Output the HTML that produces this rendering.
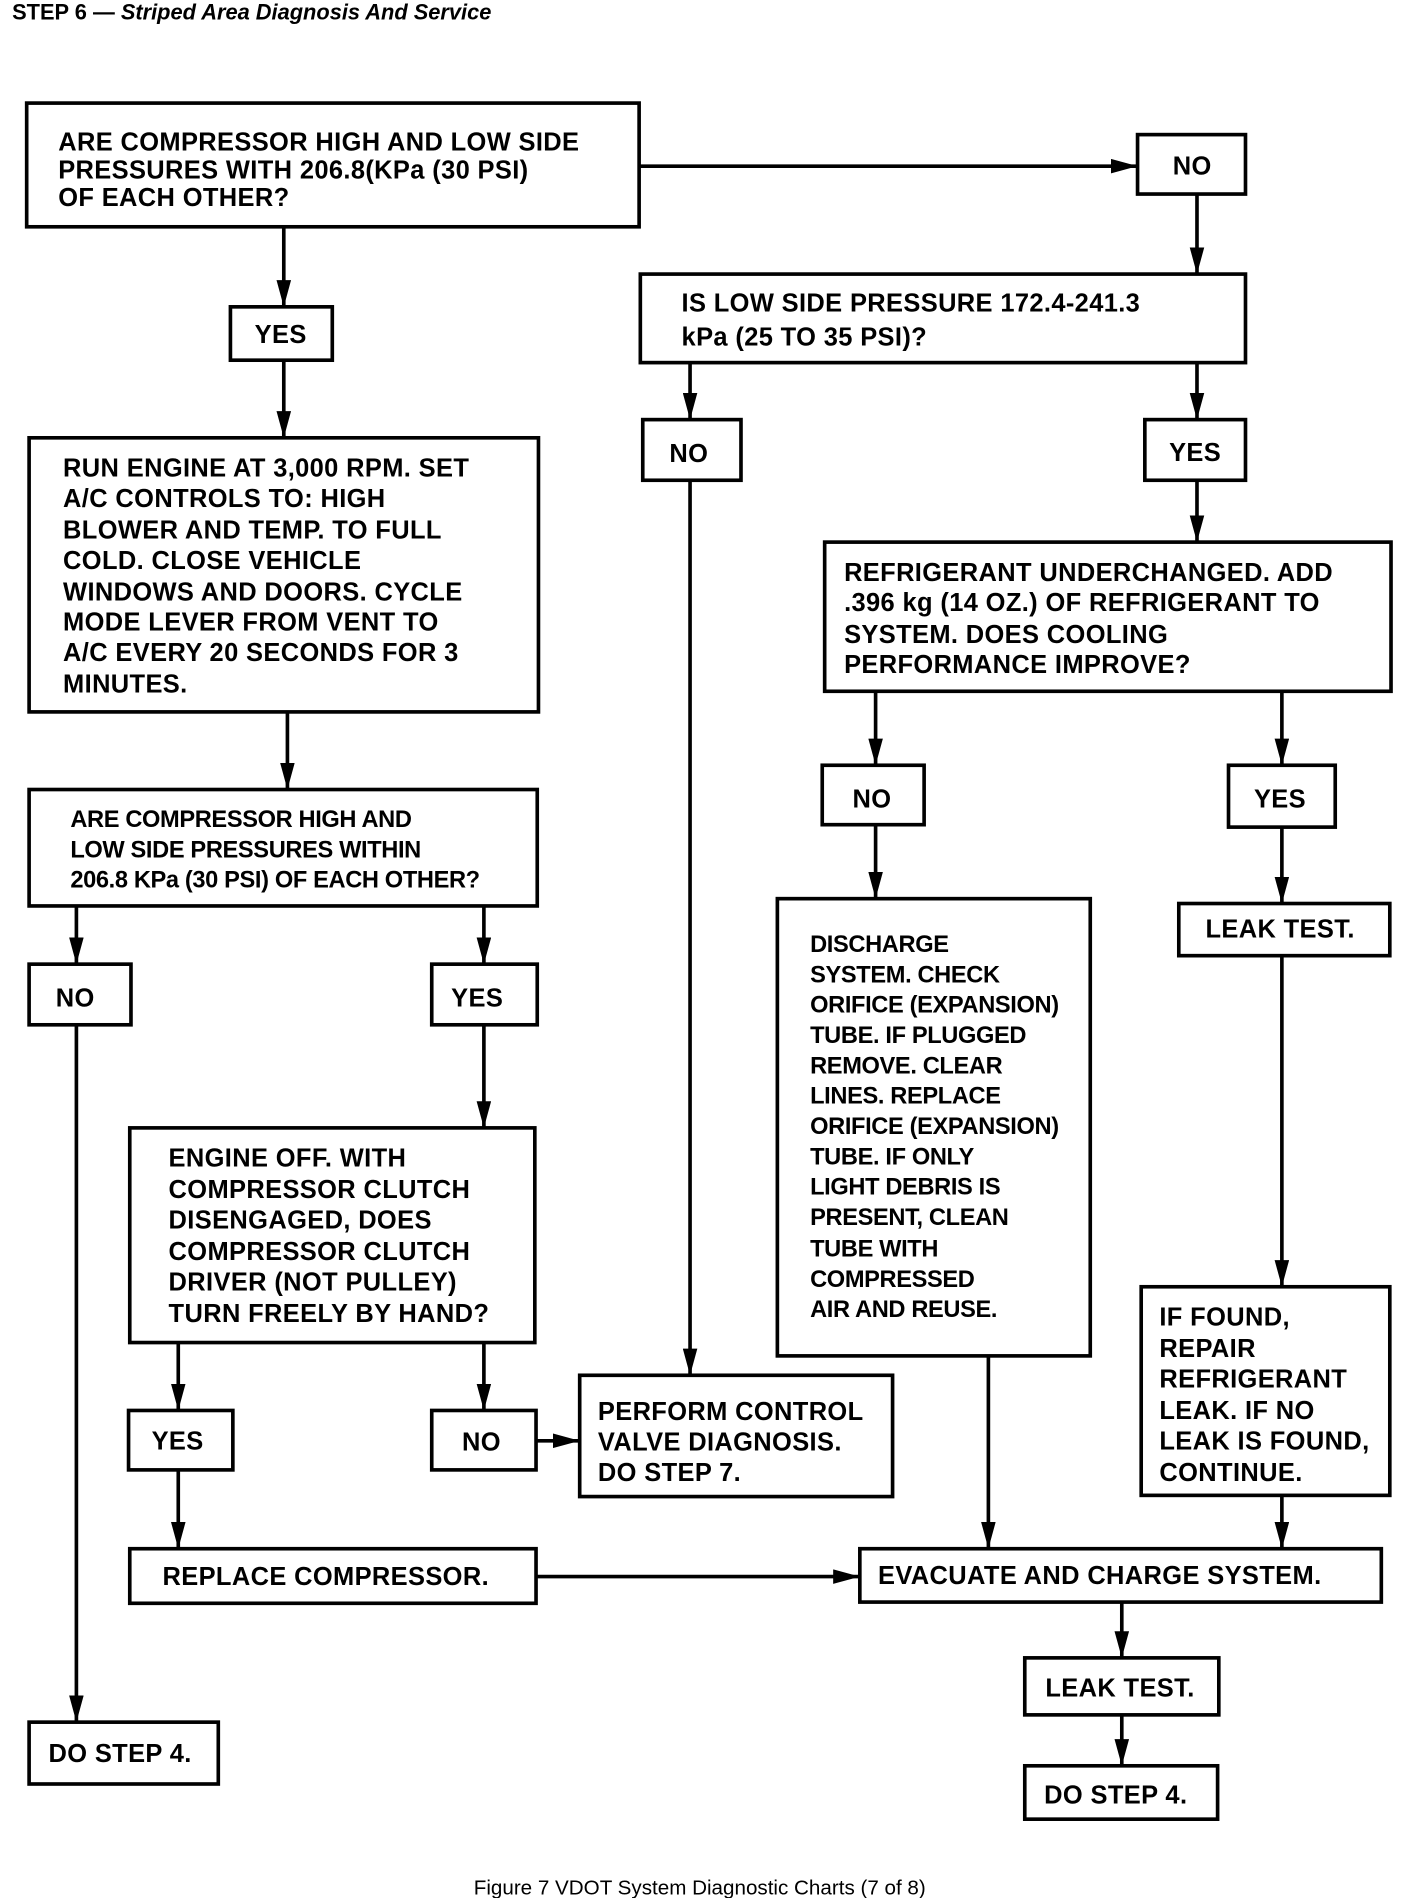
<!DOCTYPE html>
<html><head><meta charset="utf-8"><style>
html,body{margin:0;padding:0;background:#fff}
svg{display:block}
text{font-family:"Liberation Sans",Arial,sans-serif;fill:#000}
.t{font-size:21px;font-weight:bold;letter-spacing:0.3px}
.c{font-size:19.5px;font-weight:bold;letter-spacing:-0.3px}
rect{fill:#fff;stroke:#000;stroke-width:3}
line{stroke:#000;stroke-width:3}
</style></head><body>
<svg width="1408" height="1898" viewBox="0 0 1161 1565" preserveAspectRatio="none" xmlns="http://www.w3.org/2000/svg">
<defs><marker id="a" viewBox="0 0 10 20" refX="10" refY="10" markerWidth="10" markerHeight="20" markerUnits="userSpaceOnUse" orient="auto"><path d="M0,0 L0,20 L10,10 z" fill="#000" transform="translate(0,0)"/></marker>
<marker id="b" viewBox="0 0 22 12" refX="22" refY="6" markerWidth="22" markerHeight="12" markerUnits="userSpaceOnUse" orient="auto"><path d="M0,0 L22,6 L0,12 z" fill="#000"/></marker></defs>

<text x="10" y="16" style="font-size:18px;font-weight:bold">STEP 6 — <tspan font-style="italic">Striped Area Diagnosis And Service</tspan></text>

<!-- connectors -->
<g marker-end="url(#b)">
<line x1="527" y1="137" x2="938" y2="137"/>
<line x1="987" y1="160" x2="987" y2="226"/>
<line x1="234" y1="187" x2="234" y2="253"/>
<line x1="234" y1="297" x2="234" y2="361"/>
<line x1="237" y1="587" x2="237" y2="651"/>
<line x1="63" y1="747" x2="63" y2="795"/>
<line x1="399" y1="747" x2="399" y2="795"/>
<line x1="63" y1="845" x2="63" y2="1420"/>
<line x1="399" y1="845" x2="399" y2="930"/>
<line x1="147" y1="1107" x2="147" y2="1163"/>
<line x1="399" y1="1107" x2="399" y2="1163"/>
<line x1="442" y1="1188" x2="478" y2="1188"/>
<line x1="569" y1="299" x2="569" y2="346"/>
<line x1="569" y1="396" x2="569" y2="1134"/>
<line x1="987" y1="299" x2="987" y2="346"/>
<line x1="987" y1="396" x2="987" y2="447"/>
<line x1="722" y1="570" x2="722" y2="631"/>
<line x1="722" y1="680" x2="722" y2="741"/>
<line x1="815" y1="1118" x2="815" y2="1277"/>
<line x1="1057" y1="570" x2="1057" y2="631"/>
<line x1="1057" y1="682" x2="1057" y2="745"/>
<line x1="1057" y1="788" x2="1057" y2="1061"/>
<line x1="1057" y1="1233" x2="1057" y2="1277"/>
<line x1="147" y1="1212" x2="147" y2="1277"/>
<line x1="442" y1="1300" x2="709" y2="1300"/>
<line x1="925" y1="1321" x2="925" y2="1367"/>
<line x1="925" y1="1414" x2="925" y2="1456"/>
</g>

<!-- boxes -->
<rect x="22" y="85" width="505" height="102"/>
<text class="t" x="48" y="124">ARE COMPRESSOR HIGH AND LOW SIDE</text>
<text class="t" x="48" y="147">PRESSURES WITH 206.8(KPa (30 PSI)</text>
<text class="t" x="48" y="170">OF EACH OTHER?</text>

<rect x="938" y="111" width="89" height="49"/><text class="t" x="967" y="144">NO</text>

<rect x="528" y="226" width="499" height="73"/>
<text class="t" x="562" y="257">IS LOW SIDE PRESSURE 172.4-241.3</text>
<text class="t" x="562" y="285">kPa (25 TO 35 PSI)?</text>

<rect x="190" y="253" width="84" height="44"/><text class="t" x="210" y="283">YES</text>

<rect x="24" y="361" width="420" height="226"/>
<g class="t"><text class="t" x="52" y="393">RUN ENGINE AT 3,000 RPM. SET</text>
<text class="t" x="52" y="418">A/C CONTROLS TO: HIGH</text>
<text class="t" x="52" y="444">BLOWER AND TEMP. TO FULL</text>
<text class="t" x="52" y="469">COLD. CLOSE VEHICLE</text>
<text class="t" x="52" y="495">WINDOWS AND DOORS. CYCLE</text>
<text class="t" x="52" y="520">MODE LEVER FROM VENT TO</text>
<text class="t" x="52" y="545">A/C EVERY 20 SECONDS FOR 3</text>
<text class="t" x="52" y="571">MINUTES.</text></g>

<rect x="24" y="651" width="419" height="96"/>
<text class="c" x="58" y="682">ARE COMPRESSOR HIGH AND</text>
<text class="c" x="58" y="707">LOW SIDE PRESSURES WITHIN</text>
<text class="c" x="58" y="732">206.8 KPa (30 PSI) OF EACH OTHER?</text>

<rect x="24" y="795" width="84" height="50"/><text class="t" x="46" y="830">NO</text>
<rect x="356" y="795" width="87" height="50"/><text class="t" x="372" y="830">YES</text>

<rect x="24" y="1420" width="156" height="51"/><text class="t" x="40" y="1453">DO STEP 4.</text>

<rect x="107" y="930" width="334" height="177"/>
<text class="t" x="139" y="962">ENGINE OFF. WITH</text>
<text class="t" x="139" y="988">COMPRESSOR CLUTCH</text>
<text class="t" x="139" y="1013">DISENGAGED, DOES</text>
<text class="t" x="139" y="1039">COMPRESSOR CLUTCH</text>
<text class="t" x="139" y="1064">DRIVER (NOT PULLEY)</text>
<text class="t" x="139" y="1090">TURN FREELY BY HAND?</text>

<rect x="106" y="1163" width="86" height="49"/><text class="t" x="125" y="1195">YES</text>
<rect x="356" y="1163" width="86" height="49"/><text class="t" x="381" y="1196">NO</text>

<rect x="478" y="1134" width="258" height="100"/>
<text class="t" x="493" y="1171">PERFORM CONTROL</text>
<text class="t" x="493" y="1196">VALVE DIAGNOSIS.</text>
<text class="t" x="493" y="1221">DO STEP 7.</text>

<rect x="530" y="346" width="81" height="50"/><text class="t" x="552" y="381">NO</text>
<rect x="944" y="346" width="83" height="50"/><text class="t" x="964" y="380">YES</text>

<rect x="680" y="447" width="467" height="123"/>
<text class="t" x="696" y="479">REFRIGERANT UNDERCHANGED. ADD</text>
<text class="t" x="696" y="504">.396 kg (14 OZ.) OF REFRIGERANT TO</text>
<text class="t" x="696" y="530">SYSTEM. DOES COOLING</text>
<text class="t" x="696" y="555">PERFORMANCE IMPROVE?</text>

<rect x="678" y="631" width="84" height="49"/><text class="t" x="703" y="666">NO</text>
<rect x="1013" y="631" width="88" height="51"/><text class="t" x="1034" y="666">YES</text>

<rect x="641" y="741" width="258" height="377"/>
<text class="c" x="668" y="785">DISCHARGE</text>
<text class="c" x="668" y="810">SYSTEM. CHECK</text>
<text class="c" x="668" y="835">ORIFICE (EXPANSION)</text>
<text class="c" x="668" y="860">TUBE. IF PLUGGED</text>
<text class="c" x="668" y="885">REMOVE. CLEAR</text>
<text class="c" x="668" y="910">LINES. REPLACE</text>
<text class="c" x="668" y="935">ORIFICE (EXPANSION)</text>
<text class="c" x="668" y="960">TUBE. IF ONLY</text>
<text class="c" x="668" y="985">LIGHT DEBRIS IS</text>
<text class="c" x="668" y="1010">PRESENT, CLEAN</text>
<text class="c" x="668" y="1036">TUBE WITH</text>
<text class="c" x="668" y="1061">COMPRESSED</text>
<text class="c" x="668" y="1086">AIR AND REUSE.</text>

<rect x="972" y="745" width="174" height="43"/><text class="t" x="994" y="773">LEAK TEST.</text>

<rect x="941" y="1061" width="205" height="172"/>
<text class="t" x="956" y="1093">IF FOUND,</text>
<text class="t" x="956" y="1119">REPAIR</text>
<text class="t" x="956" y="1144">REFRIGERANT</text>
<text class="t" x="956" y="1170">LEAK. IF NO</text>
<text class="t" x="956" y="1195">LEAK IS FOUND,</text>
<text class="t" x="956" y="1221">CONTINUE.</text>

<rect x="709" y="1277" width="430" height="44"/><text class="t" x="724" y="1306">EVACUATE AND CHARGE SYSTEM.</text>
<rect x="107" y="1277" width="335" height="45"/><text class="t" x="134" y="1307">REPLACE COMPRESSOR.</text>

<rect x="845" y="1367" width="160" height="47"/><text class="t" x="862" y="1399">LEAK TEST.</text>
<rect x="845" y="1456" width="159" height="44"/><text class="t" x="861" y="1487">DO STEP 4.</text>

<text x="577" y="1562" text-anchor="middle" style="font-size:17px">Figure 7 VDOT System Diagnostic Charts (7 of 8)</text>
</svg>
</body></html>
